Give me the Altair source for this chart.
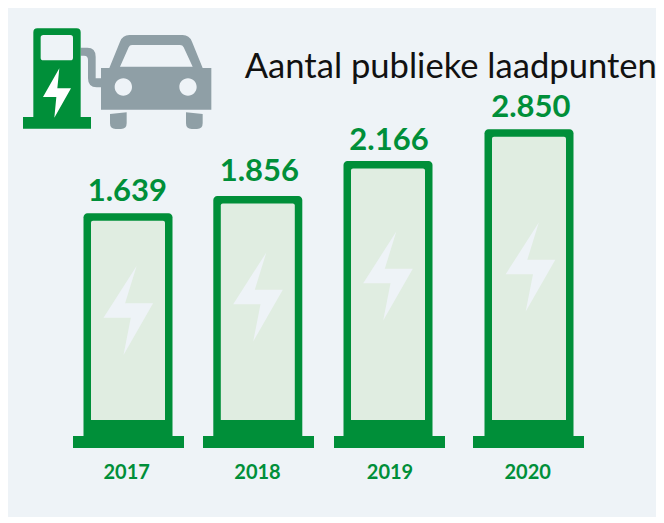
import altair as alt
import pandas as pd

jaren = [2017, 2018, 2019, 2020]
waarden = [1639, 1856, 2166, 2850]
labels = ["1.639", "1.856", "2.166", "2.850"]

GREEN = "#008F39"
PALE = "#E0EDE1"
BG = "#EEF3F7"
GREY = "#8F9FA6"

df = pd.DataFrame({"jaar": jaren, "waarde": waarden, "label": labels})
one = pd.DataFrame({"a": [0]})


def xs(rng):
    return alt.X("jaar:Q", axis=None, scale=alt.Scale(domain=jaren, range=rng, zero=False, nice=False, padding=0))


def ys(rng):
    return alt.Y("waarde:Q", axis=None, stack=None, scale=alt.Scale(domain=waarden, range=rng, zero=False, nice=False))


X_BAR = [120, 249.8, 380, 521]
X_FOOT = [120.5, 250.5, 381.5, 520.5]
Y_BAR = [205.3, 188, 153, 121.3]
X_BOLT = [120.3, 250, 380, 522.5]
Y_BOLT = [302.5, 289, 268, 259]
X_VAL = [119.3, 251.3, 381, 522.8]
Y_VAL = [192.7, 173.3, 142, 109.3]
X_YEAR = [118.7, 249.5, 382, 519.7]

BOLT = "M8.3,-44.5 L-24.8,7.2 H2.5 L-4.8,44.5 L24.8,-7.2 H-3.2 Z"
PUMP = "M100,351 V97 Q100,85 112,85 H230 Q242,85 242,97 V351 H273 V386 H69 V351 Z"
WINDOW = "M122,113 Q122,105 130,105 H211 Q219,105 219,113 V173 Q219,181 211,181 H130 Q122,181 122,173 Z"
PUMP_BOLT = "M178,205 L129,291 H169 L163,353 L213,265 H172 Z"
CAR = (
    "M303,204 H328 L360,125 Q368,105 388,105 H548 Q568,105 576,125 L608,204 H634 V329 H303 Z "
    "M330,342 L380,337 V370 Q380,387 363,387 H347 Q330,387 330,370 Z "
    "M558,337 L608,342 V370 Q608,387 591,387 H575 Q558,387 558,370 Z "
    "M242,143 H262 Q287,143 287,170 V235 H303 V262 H290 Q264,262 264,235 V180 Q264,167 252,167 H242 Z"
)
CAR_HOLES = (
    "M360,200 L386,142 Q389,135 396,135 H540 Q548,135 551,142 L578,200 Z "
    "M344,261 C344,246.6 355.6,235 370,235 C384.4,235 396,246.6 396,261 C396,275.4 384.4,287 370,287 C355.6,287 344,275.4 344,261 Z "
    "M538,261 C538,246.6 549.6,235 564,235 C578.4,235 590,246.6 590,261 C590,275.4 578.4,287 564,287 C549.6,287 538,275.4 538,261 Z"
)


def icon(path, color):
    return (
        alt.Chart(one)
        .mark_point(shape=path, filled=True, fill=color, stroke=None, opacity=1, size=4 / 9)
        .encode(x=alt.value(-8), y=alt.value(-8))
    )


outer = alt.Chart(df).mark_bar(
    width=89, color=GREEN, cornerRadiusTopLeft=4, cornerRadiusTopRight=4
).encode(x=xs(X_BAR), y=ys(Y_BAR), y2=alt.value(428))

inner = alt.Chart(df).mark_bar(
    width=74, color=PALE, yOffset=7.5, cornerRadiusTopLeft=2, cornerRadiusTopRight=2
).encode(x=xs(X_BAR), y=ys(Y_BAR), y2=alt.value(412))

foot = alt.Chart(df).mark_bar(width=111, color=GREEN).encode(
    x=xs(X_FOOT), y=alt.value(428), y2=alt.value(440)
)

bolts = alt.Chart(df).mark_point(
    shape=BOLT, filled=True, fill=BG, stroke=None, opacity=1, size=4
).encode(x=xs(X_BOLT), y=ys(Y_BOLT))

values = alt.Chart(df).mark_text(
    font="Lato", fontWeight="bold", fontSize=31, color=GREEN, align="center", baseline="alphabetic"
).encode(x=xs(X_VAL), y=ys(Y_VAL), text="label:N")

years = alt.Chart(df).mark_text(
    font="Lato", fontWeight="bold", fontSize=20, color=GREEN, align="center", baseline="alphabetic"
).encode(x=xs(X_YEAR), y=alt.value(471.3), text="jaar:N")

title = alt.Chart(one).mark_text(
    text="Aantal publieke laadpunten", font="Lato", fontSize=34.6, color="#111111",
    align="left", baseline="alphabetic"
).encode(x=alt.value(236.7), y=alt.value(69.7))

chart = (
    alt.layer(
        outer, inner, foot, bolts,
        icon(CAR, GREY), icon(CAR_HOLES, BG), icon(PUMP, GREEN), icon(WINDOW, BG), icon(PUMP_BOLT, "#FFFFFF"),
        values, years, title,
    )
    .resolve_scale(x="independent", y="independent")
    .properties(width=648, height=509, padding=0, autosize=alt.AutoSizeParams(type="none"), background="#FFFFFF")
    .configure_view(fill=BG, strokeWidth=0)
)

chart.save("out.html", embed_options={"renderer": "svg", "actions": False})
